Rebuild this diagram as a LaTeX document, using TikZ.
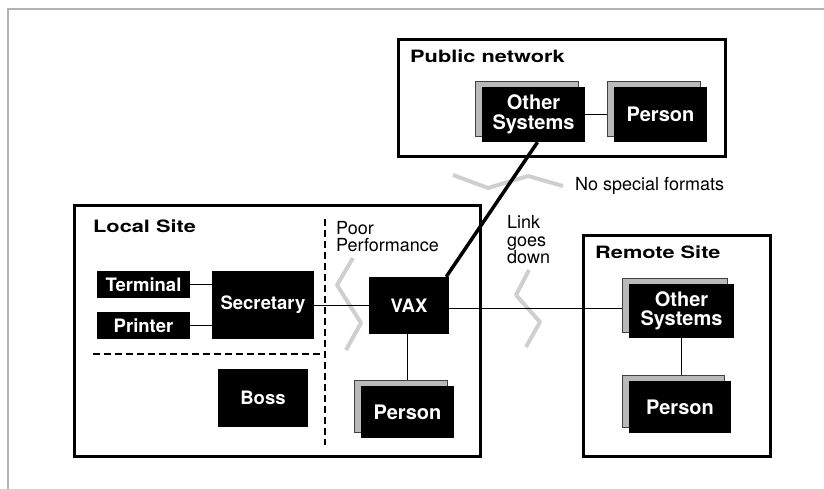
\documentclass[tikz,border=0pt]{standalone}
\usepackage{graphicx}
\usepackage{fontspec}
\setmainfont{TeX Gyre Heros}
\usetikzlibrary{shadows,backgrounds}
\newcommand{\stretchx}[1]{\scalebox{1.28}[1]{#1}}
\begin{document}
\begin{tikzpicture}[x=1pt,y=-1pt,
  blk/.style={fill=black, text=white, font=\fontsize{18.5}{18}\selectfont\bfseries, inner sep=0pt, align=center},
  shd/.style={blk, font=\fontsize{20}{19.5}\selectfont\bfseries,
    copy shadow={shadow xshift=-6.5pt, shadow yshift=6pt, fill=gray!55, draw=black!75, line width=0.7pt}},
  site/.style={draw=black, line width=3pt},
  ttl/.style={font=\fontsize{17}{17}\selectfont\bfseries, inner sep=0pt, anchor=base west},
  note/.style={font=\fontsize{18}{17.5}\selectfont, inner sep=0pt, align=left},
  wire/.style={line width=1pt},
  fat/.style={line width=3.5pt},
  sep/.style={line width=2pt, dash pattern=on 7pt off 4pt},
  squig/.style={gray!38, line width=4pt, line join=round},
  frame/.style={draw=gray!60, line width=1.3pt}
]
\useasboundingbox (0,0) rectangle (824,489);
% outer frame
\coordinate (f1) at (8,489);
\coordinate (f2) at (8,9);
\coordinate (f3) at (824,9);
\draw[frame] (f1) -- (f2) -- (f3);

% site boxes
\draw[site] (398.5,39.5) rectangle (725.5,156.5);
\draw[site] (74.5,205.5) rectangle (480.5,456.5);
\draw[site] (583.5,235.5) rectangle (770.5,456.5);

% titles
\node[ttl] (tpub) at (410,63) {\stretchx{Public network}};
\node[ttl] (tloc) at (93,232) {\stretchx{Local Site}};
\node[ttl] (trem) at (595,258) {\stretchx{Remote Site}};

% notes
\node[note, anchor=west] (poor) at (336,236.5) {Poor\\Performance};
\node[note, anchor=west] (link) at (507,240) {Link\\goes\\down};
\node[note, anchor=base west] (nsf) at (575,191) {No special formats};

% black boxes
\node[blk, minimum width=93pt, minimum height=27pt] (term) at (143.5,284.5) {Terminal};
\node[blk, minimum width=93pt, minimum height=27pt] (prn) at (143.5,325.5) {Printer};
\node[blk, minimum width=102pt, minimum height=68pt] (sec) at (263,305) {Secretary};
\node[blk, minimum width=90pt, minimum height=58pt] (boss) at (263,398) {Boss};
\node[blk, minimum width=80pt, minimum height=57pt] (vax) at (409,305.5) {VAX};
\node[shd, minimum width=103pt, minimum height=55pt] (pos) at (533.5,114.5) {Other\\Systems};
\node[shd, minimum width=93pt, minimum height=55pt] (pp) at (660.5,114.5) {Person};
\node[shd, minimum width=93pt, minimum height=52pt] (lp) at (407.5,412) {Person};
\node[shd, minimum width=105pt, minimum height=54pt] (ros) at (681.5,311) {Other\\Systems};
\node[shd, minimum width=102pt, minimum height=52pt] (rp) at (680,407) {Person};

% dashed separators
\coordinate (h1) at (93,354);
\coordinate (h2) at (325,354);
\coordinate (v1) at (325,219);
\coordinate (v2) at (325,445);
\draw[sep] (h1) -- (h2);
\draw[sep] (v1) -- (v2);

\begin{pgfonlayer}{background}
  % squiggles
  \coordinate (a1) at (353,258); \coordinate (a2) at (337,285);
  \coordinate (a3) at (361,323); \coordinate (a4) at (346,350);
  \draw[squig] (a1) -- (a2) -- (a3) -- (a4);
  \coordinate (b1) at (529,270); \coordinate (b2) at (516,295);
  \coordinate (b3) at (540,322); \coordinate (b4) at (526,347);
  \draw[squig] (b1) -- (b2) -- (b3) -- (b4);
  \coordinate (c1) at (453,175); \coordinate (c2) at (488,188);
  \coordinate (c3) at (528,176); \coordinate (c4) at (563,186);
  \draw[squig] (c1) -- (c2) -- (c3) -- (c4);
  % connectors
  \draw[wire] (term.east) -- (term.east -| sec.west);
  \draw[wire] (prn.east) -- (prn.east -| sec.west);
  \draw[wire] (vax.west) -- (vax.west -| sec.east);
  \draw[wire] ([yshift=-3pt]vax.east) -- ([yshift=-3pt]vax.east -| ros.west);
  \draw[wire] (lp.north) -- (lp.north |- vax.south);
  \draw[wire] (ros.south) -- (ros.south |- rp.north);
  \draw[wire] (pos.east) -- (pos.east -| pp.west);
\end{pgfonlayer}
\draw[fat] ([xshift=-3pt]vax.north east) -- ([xshift=4pt]pos.south);
\end{tikzpicture}
\end{document}
